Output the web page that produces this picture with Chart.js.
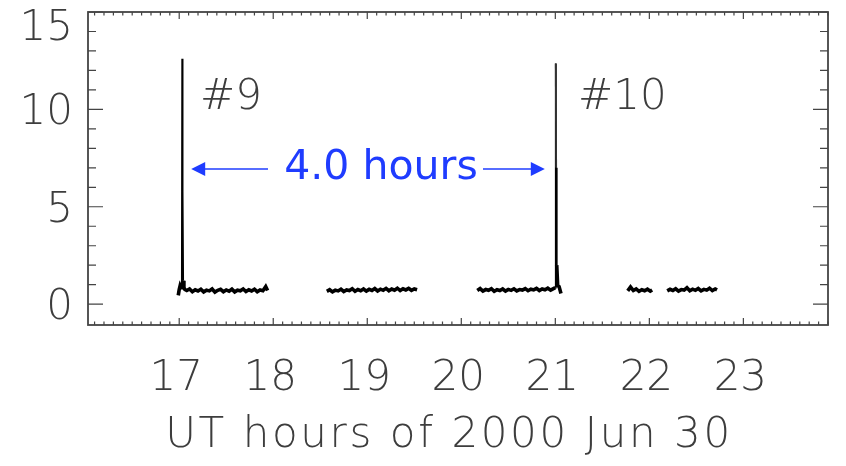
<!DOCTYPE html>
<html>
<head>
<meta charset="utf-8">
<script src="https://cdn.jsdelivr.net/npm/chart.js@4"></script>
<style>
  html, body { margin: 0; background: #fff; }
  canvas { display: block; }
</style>
</head>
<body>
<canvas id="chart" width="846" height="466"></canvas>
<script>
// axis ranges and labels
const X_MIN = 16.03, X_MAX = 23.9;
const Y_MIN = -1.07, Y_MAX = 15;
const xTicks = [17, 18, 19, 20, 21, 22, 23];
const yTicks = [0, 5, 10, 15];
const xTitle = "UT hours of 2000 Jun 30";

// light curve, one pair of arrays per observing window (UT hours, counts)
const seg1T = [16.99, 17.00, 17.01, 17.02, 17.028, 17.032, 17.036, 17.042, 17.05, 17.06, 17.08, 17.11, 17.14, 17.17, 17.20, 17.23, 17.26, 17.29, 17.32, 17.35, 17.38, 17.41, 17.44, 17.47, 17.50, 17.53, 17.56, 17.59, 17.62, 17.65, 17.68, 17.71, 17.74, 17.77, 17.80, 17.83, 17.86, 17.89, 17.92, 17.94];
const seg1F = [0.45, 0.75, 0.95, 0.85, 0.9, 12.6, 5.8, 1.2, 0.85, 0.75, 0.7, 0.78, 0.64, 0.74, 0.68, 0.77, 0.63, 0.72, 0.68, 0.78, 0.62, 0.71, 0.76, 0.64, 0.73, 0.67, 0.77, 0.63, 0.72, 0.69, 0.78, 0.65, 0.74, 0.68, 0.77, 0.64, 0.73, 0.69, 0.9, 0.7];

const seg2T = [18.57, 18.60, 18.63, 18.66, 18.69, 18.72, 18.75, 18.78, 18.81, 18.84, 18.87, 18.90, 18.93, 18.96, 18.99, 19.02, 19.05, 19.08, 19.11, 19.14, 19.17, 19.20, 19.23, 19.26, 19.29, 19.32, 19.35, 19.38, 19.41, 19.44, 19.47, 19.50, 19.53];
const seg2F = [0.66, 0.74, 0.63, 0.72, 0.68, 0.77, 0.65, 0.73, 0.70, 0.79, 0.66, 0.75, 0.69, 0.78, 0.67, 0.76, 0.70, 0.80, 0.68, 0.77, 0.71, 0.81, 0.69, 0.78, 0.72, 0.82, 0.70, 0.79, 0.73, 0.81, 0.71, 0.78, 0.74];

const seg3T = [20.17, 20.20, 20.23, 20.26, 20.29, 20.32, 20.35, 20.38, 20.41, 20.44, 20.47, 20.50, 20.53, 20.56, 20.59, 20.62, 20.65, 20.68, 20.71, 20.74, 20.77, 20.80, 20.83, 20.86, 20.89, 20.92, 20.95, 20.98, 21.0, 21.005, 21.009, 21.015, 21.025, 21.04, 21.06];
const seg3F = [0.70, 0.80, 0.67, 0.75, 0.71, 0.79, 0.66, 0.74, 0.70, 0.78, 0.67, 0.76, 0.71, 0.79, 0.68, 0.75, 0.72, 0.80, 0.69, 0.77, 0.73, 0.81, 0.70, 0.78, 0.74, 0.82, 0.72, 0.80, 0.85, 12.35, 7.0, 2.0, 0.95, 0.9, 0.55];

const seg4T = [21.77, 21.80, 21.83, 21.86, 21.89, 21.92, 21.95, 21.98, 22.01, 22.03];
const seg4F = [0.68, 0.88, 0.70, 0.78, 0.66, 0.74, 0.69, 0.77, 0.67, 0.73];

const seg5T = [22.19, 22.22, 22.25, 22.28, 22.31, 22.34, 22.37, 22.40, 22.43, 22.46, 22.49, 22.52, 22.55, 22.58, 22.61, 22.64, 22.67, 22.70, 22.72];
const seg5F = [0.68, 0.76, 0.70, 0.79, 0.67, 0.75, 0.72, 0.84, 0.69, 0.77, 0.71, 0.80, 0.68, 0.76, 0.72, 0.82, 0.70, 0.78, 0.73];

// peaks of the two flares, used to anchor the "4.0 hours" arrows
const flareTimes = [17.032, 21.005];

const segments = [[seg1T, seg1F], [seg2T, seg2F], [seg3T, seg3F], [seg4T, seg4F], [seg5T, seg5F]];

const GREY = "#3d3d3d";
const BLUE = "#1f3cff";
const TEXT_FONT = '200 42px "DejaVu Sans"';

function drawArrow(ctx, fromX, toX, y) {
  const dir = toX > fromX ? 1 : -1;
  ctx.beginPath();
  ctx.moveTo(fromX, y);
  ctx.lineTo(toX - dir * 10, y);
  ctx.stroke();
  ctx.beginPath();
  ctx.moveTo(toX, y);
  ctx.lineTo(toX - dir * 14, y - 7);
  ctx.lineTo(toX - dir * 14, y + 7);
  ctx.closePath();
  ctx.fill();
}

const framePlugin = {
  id: "frame",
  afterDraw(chart) {
    const { ctx, chartArea: a, scales: { x, y } } = chart;
    ctx.save();

    // box
    ctx.strokeStyle = "#444";
    ctx.lineWidth = 1.8;
    ctx.strokeRect(a.left, a.top, a.right - a.left, a.bottom - a.top);

    // x ticks: minor every 0.1 h, major each hour, pointing inward top and bottom
    ctx.lineWidth = 1.2;
    ctx.beginPath();
    for (let k = Math.ceil(X_MIN * 10); k <= Math.floor(X_MAX * 10); k++) {
      const px = x.getPixelForValue(k / 10);
      const len = k % 10 === 0 ? 7 : 3.5;
      ctx.moveTo(px, a.bottom);
      ctx.lineTo(px, a.bottom - len);
      ctx.moveTo(px, a.top);
      ctx.lineTo(px, a.top + len);
    }
    // y ticks: minor every 1, major every 5, left and right
    for (let v = 0; v <= Y_MAX; v++) {
      const py = y.getPixelForValue(v);
      const len = v % 5 === 0 ? 15 : 8;
      ctx.moveTo(a.left, py);
      ctx.lineTo(a.left + len, py);
      ctx.moveTo(a.right, py);
      ctx.lineTo(a.right - len, py);
    }
    ctx.stroke();

    // tick labels
    ctx.fillStyle = GREY;
    ctx.font = TEXT_FONT;
    ctx.textBaseline = "middle";
    ctx.textAlign = "right";
    yTicks.forEach(v => {
      const py = Math.max(y.getPixelForValue(v) + 4, 29);
      ctx.fillText(String(v), a.left - 15, py);
    });
    ctx.textAlign = "center";
    xTicks.forEach(v => {
      ctx.fillText(String(v), x.getPixelForValue(v) - 3, 379);
    });

    // axis title
    ctx.letterSpacing = "2.6px";
    ctx.fillText(xTitle, 449, 436);
    ctx.letterSpacing = "0px";

    // flare labels
    ctx.textAlign = "left";
    ctx.fillText("#9", 200, 98);
    ctx.fillText("#10", 578, 98);

    // interval annotation
    ctx.fillStyle = BLUE;
    ctx.strokeStyle = BLUE;
    ctx.lineWidth = 1.6;
    ctx.font = '41px "DejaVu Sans"';
    ctx.textAlign = "center";
    ctx.fillText("4.0 hours", 381, 168);
    const leftTip = x.getPixelForValue(flareTimes[0]) + 9;
    const rightTip = x.getPixelForValue(flareTimes[1]) - 11;
    drawArrow(ctx, 268, leftTip, 169);
    drawArrow(ctx, 483, rightTip, 169);

    ctx.restore();
  }
};

new Chart(document.getElementById("chart"), {
  type: "line",
  data: {
    datasets: segments.map(([t, f]) => ({
      data: t.map((tv, i) => ({ x: tv, y: f[i] })),
      borderColor: "#000",
      borderWidth: 3.6,
      pointRadius: 0,
      tension: 0,
      segment: {
        // thin line on the steep flare rise/decay, thick noisy band elsewhere
        borderWidth: c => Math.abs(c.p1.parsed.y - c.p0.parsed.y) > 1.5 ? 1.8 : 3.6,
        borderColor: c => Math.min(c.p0.parsed.y, c.p1.parsed.y) > 6 ? "#333" : "#000"
      }
    }))
  },
  options: {
    responsive: false,
    animation: false,
    devicePixelRatio: 1,
    layout: { padding: { left: 88, top: 12, right: 18, bottom: 141 } },
    plugins: { legend: { display: false }, tooltip: { enabled: false } },
    scales: {
      x: { type: "linear", min: X_MIN, max: X_MAX, display: false },
      y: { type: "linear", min: Y_MIN, max: Y_MAX, display: false }
    }
  },
  plugins: [framePlugin]
});
</script>
</body>
</html>
